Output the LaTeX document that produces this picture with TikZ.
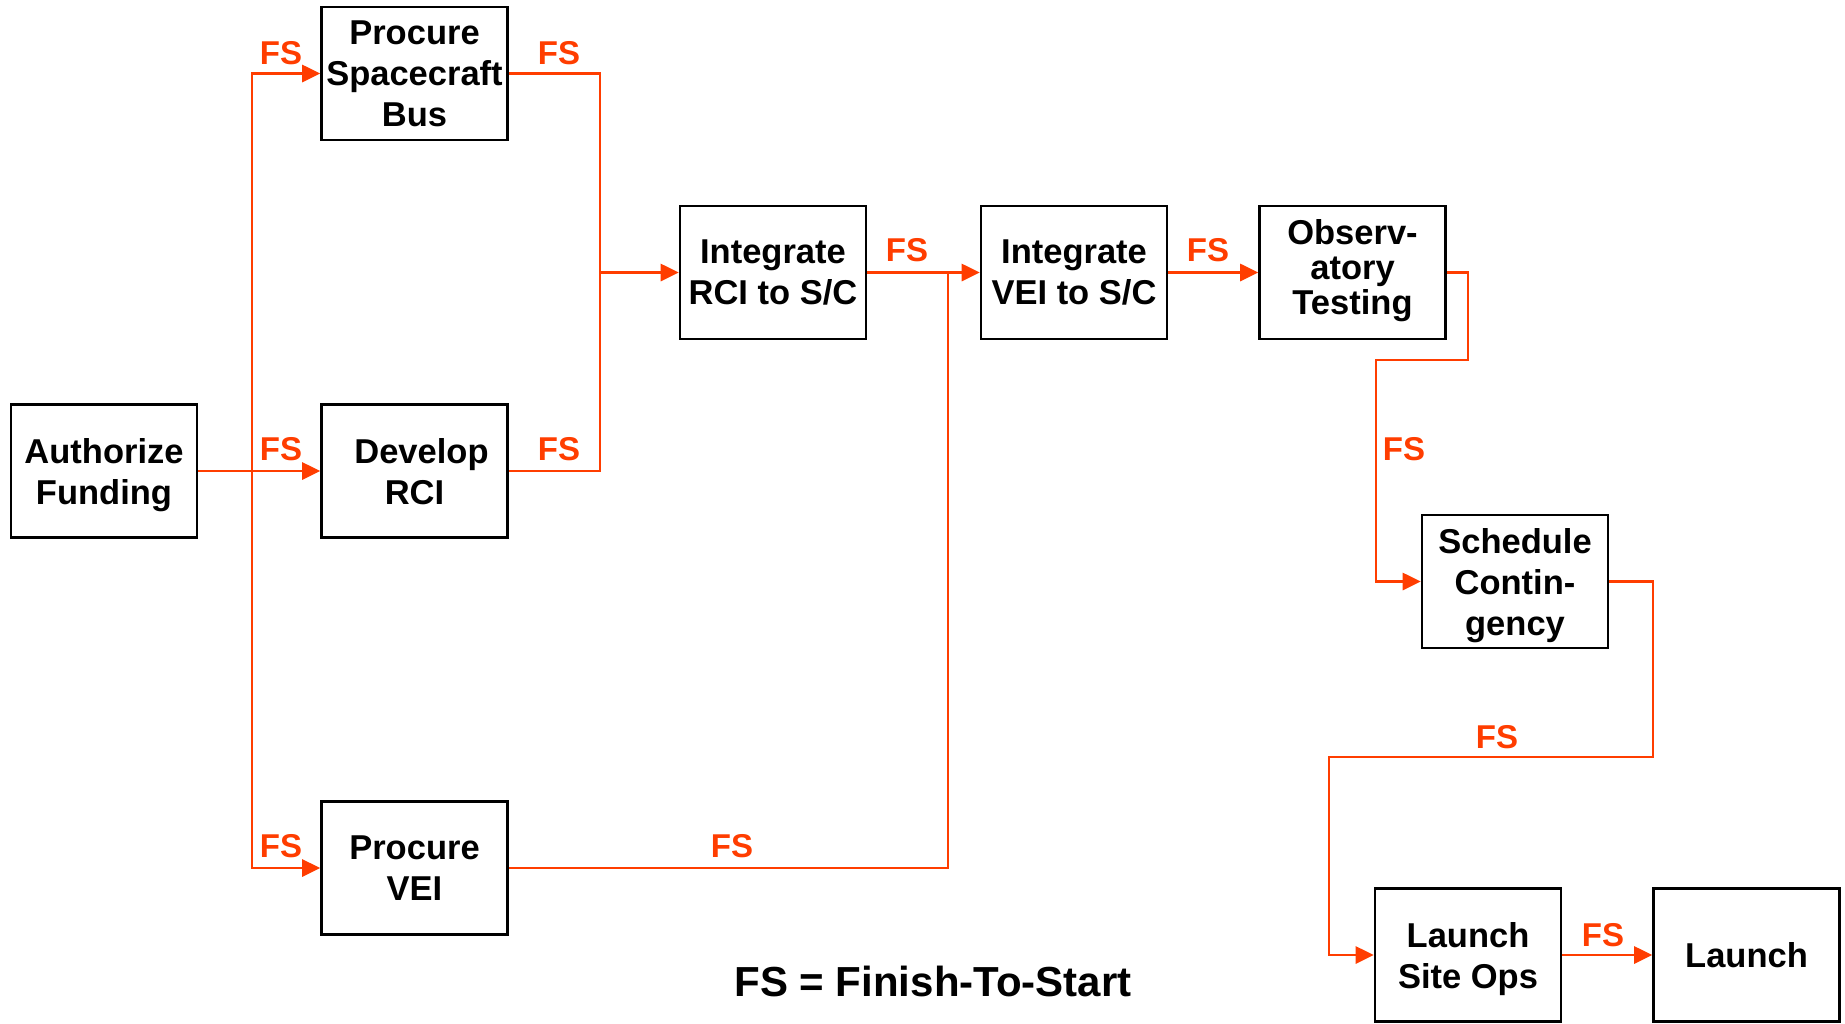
\documentclass[tikz,border=0pt]{standalone}
\usepackage{fontspec}
\setmainfont{Liberation Sans}
\usetikzlibrary{arrows.meta}
\definecolor{fsred}{RGB}{255,61,0}
\tikzset{
  box/.style={draw=black, line width=2.6pt, minimum width=186pt, minimum height=133pt,
    inner sep=0pt, align=center, text depth=0pt, font=\fontsize{34.5}{41}\selectfont\bfseries},
  conn/.style={draw=fsred, line width=2.8pt},
  arr/.style={conn, -{Triangle[length=18pt,width=17pt]}},
  fs/.style={text=fsred, inner sep=0pt, font=\fontsize{33}{36}\selectfont\bfseries},
  legend/.style={inner sep=0pt, font=\fontsize{42}{46}\selectfont\bfseries}
}
\begin{document}
\begin{tikzpicture}[x=1pt,y=-1pt]
\useasboundingbox (0,0) rectangle (1845,1023);
% boxes
\node[box] (auth) at (104,471) {Authorize\\Funding};
\node[box] (psb) at (414.5,73.5) {Procure\\Spacecraft\\Bus};
\node[box] (drci) at (414.5,471) {\hspace*{14pt}Develop\\RCI};
\node[box] (pvei) at (414.5,868) {Procure\\VEI};
\node[box] (irci) at (773,272.5) {Integrate\\RCI to S/C};
\node[box] (ivei) at (1074,272.5) {Integrate\\VEI to S/C};
\node[box, text depth=12pt, font=\fontsize{34.5}{35}\selectfont\bfseries] (obs) at (1352.5,272.5) {Observ-\\atory\\Testing};
\node[box] (sched) at (1515,581.5) {Schedule\\Contin-\\gency};
\node[box] (lso) at (1468,955) {Launch\\Site Ops};
\node[box] (launch) at (1746.5,955) {Launch};
% junction coordinates
\coordinate (busA) at (252,471);
\coordinate (jB) at (600,272.5);
\coordinate (jC) at (948,272.5);
\coordinate (o1) at (1468,360);
\coordinate (o2) at (1376,360);
\coordinate (s1) at (1653,757);
\coordinate (s2) at (1329,757);
% connectors
\draw[arr] (auth.east) -- (drci.west);
\draw[arr] (busA) |- (psb.west);
\draw[arr] (busA) |- (pvei.west);
\draw[conn] (psb.east) -| (jB) |- (drci.east);
\draw[arr] (jB) -- (irci.west);
\draw[arr] (irci.east) -- (ivei.west);
\draw[conn] (pvei.east) -| (jC);
\draw[arr] (ivei.east) -- (obs.west);
\draw[arr] (obs.east) -| (o1) -- (o2) |- (sched.west);
\draw[arr] (sched.east) -| (s1) -- (s2) |- (lso.west);
\draw[arr] (lso.east) -- (launch.west);
% labels
\node[fs] (f1) at (281,53) {FS};
\node[fs] (f2) at (281,449.5) {FS};
\node[fs] (f3) at (281,846) {FS};
\node[fs] (f4) at (559,53) {FS};
\node[fs] (f5) at (559,449.5) {FS};
\node[fs] (f6) at (907,250.5) {FS};
\node[fs] (f7) at (1208,250.5) {FS};
\node[fs] (f8) at (732,846) {FS};
\node[fs] (f9) at (1404,449.5) {FS};
\node[fs] (f10) at (1497,737) {FS};
\node[fs] (f11) at (1603,935.5) {FS};
\node[legend] (leg) at (933,981) {FS = Finish-To-Start};
\end{tikzpicture}
\end{document}
